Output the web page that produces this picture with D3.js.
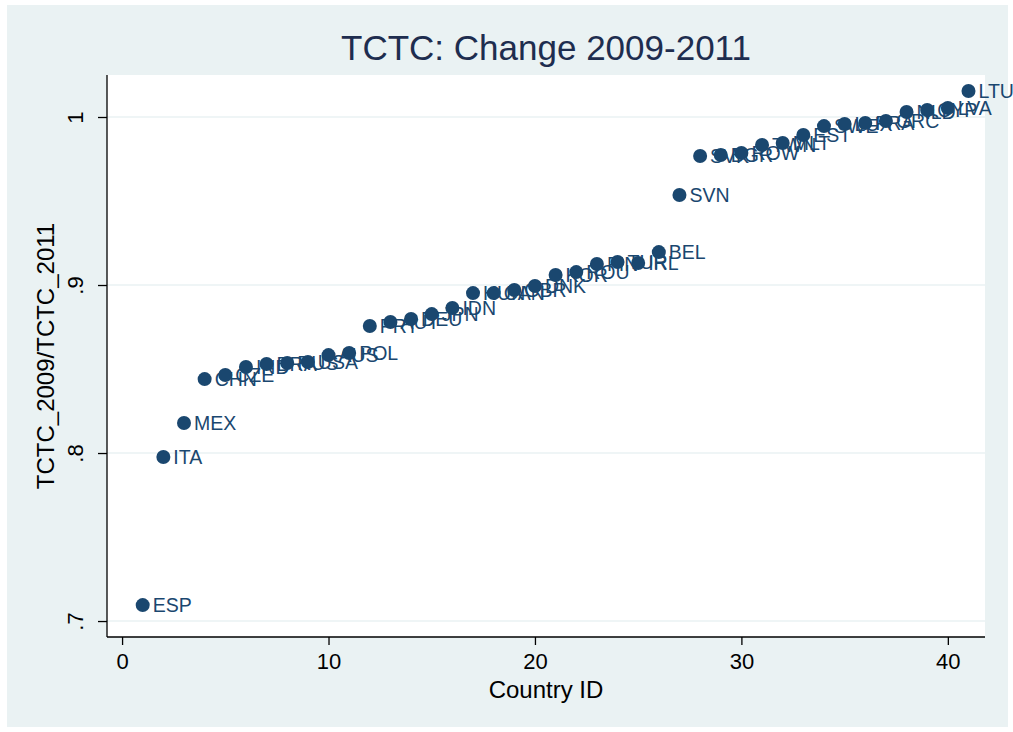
<!DOCTYPE html>
<html>
<head>
<meta charset="utf-8">
<script src="https://cdn.jsdelivr.net/npm/d3@7"></script>
<style>
  body { margin: 0; background: #fff; }
  svg text { font-family: "Liberation Sans", Arial, sans-serif; }
</style>
</head>
<body>
<div class="chart"></div>
<script>
var countries = ['ESP','ITA','MEX','CHN','CZE','IND','BRA','RUS','USA','AUS',
  'POL','PRT','AUT','DEU','JPN','IDN','HUN','CAN','GBR','DNK',
  'KOR','ROU','FIN','TUR','IRL','BEL','SVN','SVK','BGR','ROW',
  'TWN','MLT','EST','SWE','LUX','FRA','GRC','NLD','CYP','LVA','LTU']
var ratio = [0.7095, 0.7976, 0.8179, 0.8440, 0.8464, 0.8512, 0.8530, 0.8536, 0.8542, 0.8583,
  0.8595, 0.8756, 0.8780, 0.8798, 0.8827, 0.8863, 0.8952, 0.8952, 0.8970, 0.8994,
  0.9060, 0.9077, 0.9125, 0.9137, 0.9131, 0.9196, 0.9536, 0.9768, 0.9774, 0.9786,
  0.9833, 0.9845, 0.9893, 0.9946, 0.9958, 0.9964, 0.9976, 1.0030, 1.0042, 1.0054, 1.0155]
var xTicks = [0, 10, 20, 30, 40]
var yTicks = [0.7, 0.8, 0.9, 1]
var yTickLabels = ['.7', '.8', '.9', '1']

var width = 1013
var height = 732
var plot = {left: 107, right: 985, top: 75, bottom: 637}
var navy = '#1a476f'

var svg = d3.select('.chart')
  .append('svg')
  .attr('width', width)
  .attr('height', height)

// outer graph region
svg.append('rect')
  .attr('x', 7).attr('y', 5)
  .attr('width', 1001).attr('height', 722)
  .style('fill', '#eaf2f3')

svg.append('rect')
  .attr('x', plot.left).attr('y', plot.top)
  .attr('width', plot.right - plot.left).attr('height', plot.bottom - plot.top)
  .style('fill', '#fff')

var x = d3.scaleLinear().domain([-0.73, 41.8]).range([plot.left, plot.right])
var y = d3.scaleLinear().domain([0.6905, 1.025]).range([plot.bottom, plot.top])

// grid
svg.selectAll('.grid')
  .data(yTicks)
  .enter().append('line')
  .attr('x1', plot.left).attr('x2', plot.right)
  .attr('y1', function(d) { return y(d) })
  .attr('y2', function(d) { return y(d) })
  .style('stroke', '#eaf2f3')
  .style('stroke-width', 1.5)

// axes
var xAxis = svg.append('g')
  .attr('transform', 'translate(0,' + plot.bottom + ')')
  .call(d3.axisBottom(x).tickValues(xTicks).tickSize(8).tickPadding(8))
xAxis.select('.domain').attr('d', 'M' + plot.left + ',0H' + plot.right)
xAxis.selectAll('text').style('font-size', '22px').style('fill', '#000')

var yAxis = svg.append('g')
  .attr('transform', 'translate(' + plot.left + ',0)')
  .call(d3.axisLeft(y).tickValues(yTicks).tickSize(9)
    .tickFormat(function(d, i) { return yTickLabels[i] }))
yAxis.select('.domain').attr('d', 'M0,' + plot.top + 'V' + plot.bottom)
yAxis.selectAll('.tick text')
  .attr('x', null).attr('dy', null)
  .attr('transform', 'translate(-24,0) rotate(-90)')
  .attr('text-anchor', 'middle')
  .style('font-size', '22px')
  .style('fill', '#000')
svg.selectAll('.domain, .tick line').style('stroke', '#000').style('stroke-width', 1.3)

// points + labels (labels overlap in the original too)
var pts = svg.append('g')
pts.selectAll('circle')
  .data(ratio)
  .enter().append('circle')
  .attr('cx', function(d, i) { return x(i + 1) })
  .attr('cy', function(d) { return y(d) })
  .attr('r', 7)
  .style('fill', navy)

pts.selectAll('text')
  .data(ratio)
  .enter().append('text')
  .attr('x', function(d, i) { return x(i + 1) + 10 })
  .attr('y', function(d) { return y(d) })
  .attr('dy', '0.36em')
  .text(function(d, i) { return countries[i] })
  .style('font-size', '19.5px')
  .style('fill', navy)

// titles
svg.append('text')
  .attr('x', (plot.left + plot.right) / 2)
  .attr('y', 60)
  .attr('text-anchor', 'middle')
  .style('font-size', '35px')
  .style('fill', '#1e2d4f')
  .text('TCTC: Change 2009-2011')

svg.append('text')
  .attr('x', (plot.left + plot.right) / 2)
  .attr('y', 698)
  .attr('text-anchor', 'middle')
  .style('font-size', '24px')
  .style('fill', '#000')
  .text('Country ID')

svg.append('text')
  .attr('transform', 'translate(54,' + (plot.top + plot.bottom) / 2 + ') rotate(-90)')
  .attr('text-anchor', 'middle')
  .style('font-size', '24px')
  .style('fill', '#000')
  .text('TCTC_2009/TCTC_2011')
</script>
</body>
</html>
